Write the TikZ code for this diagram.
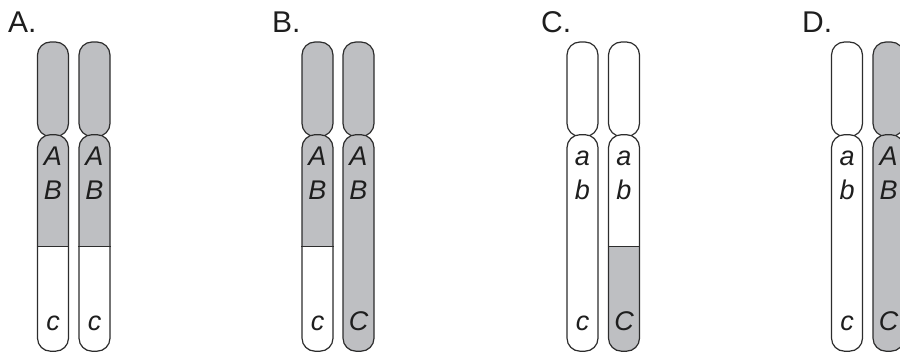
\documentclass[tikz,border=0pt]{standalone}
\usepackage{fontspec}
\setmainfont{Liberation Sans}
\usepackage{tikz}
\usetikzlibrary{positioning}
\definecolor{chromgray}{RGB}{190,191,194}
\definecolor{chromline}{RGB}{45,45,45}
\definecolor{genetext}{RGB}{30,30,30}
\tikzset{
  arm/.style={draw=chromline, line width=1.2pt, rounded corners=13pt,
              minimum width=31pt, inner sep=0pt},
  parm/.style={arm, minimum height=94.5pt},
  qarm/.style={arm, minimum height=216.5pt},
  dark/.style={fill=chromgray},
  light/.style={fill=white},
  % lower 105pt of a long arm in the other colour
  lowband/.style={fill=white, path picture={
      \fill[chromgray, sharp corners]
        ([yshift=105pt]path picture bounding box.south west)
        rectangle (path picture bounding box.south east);}},
  lowwhite/.style={fill=chromgray, path picture={
      \fill[white, sharp corners]
        ([yshift=105pt]path picture bounding box.south west)
        rectangle (path picture bounding box.south east);}},
  bandline/.style={draw=chromline, line width=1.2pt},
  gene/.style={anchor=base, font=\fontsize{27}{27}\selectfont\itshape,
               text=genetext, inner sep=0pt},
  panel/.style={anchor=base west, font=\fontsize{30}{30}\selectfont,
                text=genetext, inner sep=0pt},
}

\begin{document}
\begin{tikzpicture}[x=1pt, y=-1pt, node distance=-3pt]
\path[use as bounding box, clip] (0,0) rectangle (900,351);

% A: AB/c, AB/c
\node[panel] (labA) at (8,32) {A.};
\node[parm, dark] (A1p) at (53,89.25) {};
\node[qarm, lowwhite, below=of A1p] (A1q) {};
\node[parm, dark] (A2p) at (94.5,89.25) {};
\node[qarm, lowwhite, below=of A2p] (A2q) {};
\draw[bandline] ([yshift=105pt]A1q.south west) -- ([yshift=105pt]A1q.south east);
\draw[bandline] ([yshift=105pt]A2q.south west) -- ([yshift=105pt]A2q.south east);
\node[gene] (A1a) at ([yshift=-31.5pt]A1q.north) {A};
\node[gene] (A1b) at ([yshift=-65pt]A1q.north) {B};
\node[gene] (A1c) at ([yshift=21pt]A1q.south) {c};
\node[gene] (A2a) at ([yshift=-31.5pt]A2q.north) {A};
\node[gene] (A2b) at ([yshift=-65pt]A2q.north) {B};
\node[gene] (A2c) at ([yshift=21pt]A2q.south) {c};

% B: AB/c, AB/C
\node[panel] (labB) at (272,32) {B.};
\node[parm, dark] (B1p) at (317.5,89.25) {};
\node[qarm, lowwhite, below=of B1p] (B1q) {};
\node[parm, dark] (B2p) at (358.5,89.25) {};
\node[qarm, dark, below=of B2p] (B2q) {};
\draw[bandline] ([yshift=105pt]B1q.south west) -- ([yshift=105pt]B1q.south east);
\node[gene] (B1a) at ([yshift=-31.5pt]B1q.north) {A};
\node[gene] (B1b) at ([yshift=-65pt]B1q.north) {B};
\node[gene] (B1c) at ([yshift=21pt]B1q.south) {c};
\node[gene] (B2a) at ([yshift=-31.5pt]B2q.north) {A};
\node[gene] (B2b) at ([yshift=-65pt]B2q.north) {B};
\node[gene] (B2c) at ([yshift=21pt]B2q.south) {C};

% C: ab/c, ab/C
\node[panel] (labC) at (541,32) {C.};
\node[parm, light] (C1p) at (582.5,89.25) {};
\node[qarm, light, below=of C1p] (C1q) {};
\node[parm, light] (C2p) at (624,89.25) {};
\node[qarm, lowband, below=of C2p] (C2q) {};
\draw[bandline] ([yshift=105pt]C2q.south west) -- ([yshift=105pt]C2q.south east);
\node[gene] (C1a) at ([yshift=-31.5pt]C1q.north) {a};
\node[gene] (C1b) at ([yshift=-65pt]C1q.north) {b};
\node[gene] (C1c) at ([yshift=21pt]C1q.south) {c};
\node[gene] (C2a) at ([yshift=-31.5pt]C2q.north) {a};
\node[gene] (C2b) at ([yshift=-65pt]C2q.north) {b};
\node[gene] (C2c) at ([yshift=21pt]C2q.south) {C};

% D: ab/c, AB/C
\node[panel] (labD) at (802,32) {D.};
\node[parm, light] (D1p) at (847,89.25) {};
\node[qarm, light, below=of D1p] (D1q) {};
\node[parm, dark] (D2p) at (888.5,89.25) {};
\node[qarm, dark, below=of D2p] (D2q) {};
\node[gene] (D1a) at ([yshift=-31.5pt]D1q.north) {a};
\node[gene] (D1b) at ([yshift=-65pt]D1q.north) {b};
\node[gene] (D1c) at ([yshift=21pt]D1q.south) {c};
\node[gene] (D2a) at ([yshift=-31.5pt]D2q.north) {A};
\node[gene] (D2b) at ([yshift=-65pt]D2q.north) {B};
\node[gene] (D2c) at ([yshift=21pt]D2q.south) {C};
\end{tikzpicture}
\end{document}
